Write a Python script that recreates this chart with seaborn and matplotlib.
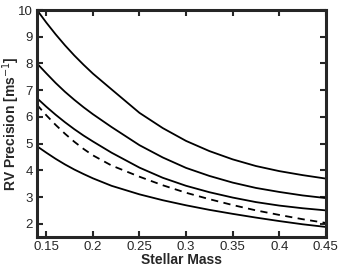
import numpy as np
import pandas as pd
import matplotlib
matplotlib.use("Agg")
import matplotlib.pyplot as plt
import seaborn as sns

# stellar mass grid
mass = [0.14, 0.15, 0.16, 0.17, 0.18, 0.19, 0.2, 0.22, 0.25, 0.275,
        0.3, 0.325, 0.35, 0.375, 0.4, 0.425, 0.45]

# RV precision curves (m/s), top to bottom
rv_a = [10.0, 9.53, 9.09, 8.68, 8.3, 7.95, 7.62, 7.03, 6.15, 5.58,
        5.1, 4.72, 4.41, 4.16, 3.97, 3.82, 3.69]
rv_b = [8.0, 7.63, 7.27, 6.94, 6.64, 6.36, 6.1, 5.62, 4.94, 4.48,
        4.09, 3.79, 3.54, 3.34, 3.19, 3.06, 2.96]
rv_c = [6.7, 6.38, 6.08, 5.8, 5.54, 5.3, 5.08, 4.66, 4.1, 3.72,
        3.42, 3.18, 2.98, 2.81, 2.68, 2.58, 2.5]
rv_dash = [6.45, 6.06, 5.7, 5.37, 5.07, 4.8, 4.56, 4.18, 3.76, 3.44,
           3.16, 2.92, 2.7, 2.5, 2.33, 2.17, 2.03]
rv_d = [4.9, 4.66, 4.43, 4.22, 4.03, 3.86, 3.7, 3.42, 3.1, 2.88,
        2.69, 2.52, 2.37, 2.23, 2.1, 1.98, 1.88]

x_ticks = [0.15, 0.2, 0.25, 0.3, 0.35, 0.4, 0.45]
x_ticklabels = ["0.15", "0.2", "0.25", "0.3", "0.35", "0.4", "0.45"]
y_ticks = [2, 3, 4, 5, 6, 7, 8, 9, 10]


def main():
    sns.set_style("ticks")
    plt.rcParams["font.family"] = ["Liberation Sans", "DejaVu Sans"]

    df = pd.DataFrame({"mass": mass, "a": rv_a, "b": rv_b, "c": rv_c,
                       "dash": rv_dash, "d": rv_d})

    fig = plt.figure(figsize=(3.41, 2.67), dpi=100)
    ax = fig.add_axes([0.1085, 0.112, 0.847, 0.8505])

    for col in ["a", "b", "c", "d"]:
        sns.lineplot(data=df, x="mass", y=col, ax=ax, color="black", lw=1.3)
    sns.lineplot(data=df, x="mass", y="dash", ax=ax, color="black", lw=1.3,
                 linestyle=(0, (4, 3)))

    ax.set_xlim(0.14, 0.45)
    ax.set_ylim(1.5, 10)
    ax.set_xticks(x_ticks)
    ax.set_xticklabels(x_ticklabels)
    ax.set_yticks(y_ticks)
    ax.tick_params(direction="in", length=4, width=1.5, labelsize=9.5,
                   top=True, right=True, pad=3)
    for s in ax.spines.values():
        s.set_visible(True)
        s.set_linewidth(2.2)

    ax.set_xlabel("Stellar Mass", fontsize=10, fontweight="bold", labelpad=0)
    ax.set_ylabel("RV Precision [ms$^{-1}$]", fontsize=10, fontweight="bold")
    # pull the y label in so it sits inside the figure like the original
    ax.yaxis.set_label_coords(-0.052, 0.5)

    fig.savefig("out.png", dpi=100)


if __name__ == "__main__":
    main()
